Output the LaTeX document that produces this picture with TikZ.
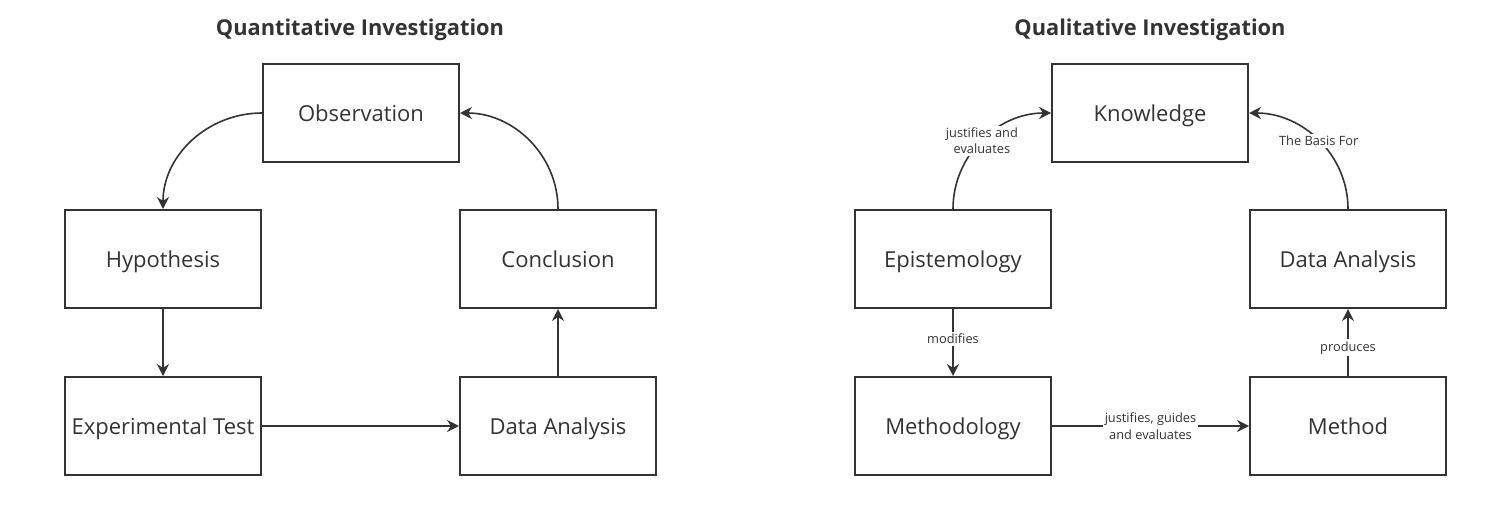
\documentclass[tikz,border=0pt]{standalone}
\usepackage{fontspec}
\setmainfont{Open Sans}
\usetikzlibrary{arrows.meta}
\definecolor{ink}{HTML}{333333}
\begin{document}
\begin{tikzpicture}[x=1pt,y=-1pt,
  box/.style={draw=ink,line width=2pt,minimum width=196pt,minimum height=98pt,inner sep=0pt,font=\fontsize{22}{26}\selectfont,text=ink,text height=16pt,text depth=0pt},
  conn/.style={draw=ink,line width=1.6pt,-{Stealth[length=12pt,width=12pt]}},
  lbl/.style={fill=white,font=\fontsize{12.8}{16.5}\selectfont,text=ink,align=center,inner sep=2pt},
  ttl/.style={font=\fontsize{21.8}{26}\selectfont\bfseries,text=ink,text height=16pt,text depth=0pt}]
\useasboundingbox (0,0) rectangle (1511,527);
% titles
\node[ttl] (t1) at (360,28) {Quantitative Investigation};
\node[ttl] (t2) at (1150,28) {Qualitative Investigation};
% left diagram
\node[box] (obs) at (361,113) {Observation};
\node[box] (hyp) at (163,259) {Hypothesis};
\node[box] (con) at (558,259) {Conclusion};
\node[box] (exp) at (163,426) {Experimental Test};
\node[box] (da1) at (558,426) {Data Analysis};
\draw[conn] (obs.west) to[out=180,in=90] (hyp.north);
\draw[conn] (con.north) to[out=90,in=0] (obs.east);
\draw[conn] (hyp.south) -- (exp.north);
\draw[conn] (exp.east) -- (da1.west);
\draw[conn] (da1.north) -- (con.south);
% right diagram
\node[box] (kno) at (1150,113) {Knowledge};
\node[box] (epi) at (953,259) {Epistemology};
\node[box] (da2) at (1348,259) {Data Analysis};
\node[box] (mty) at (953,426) {Methodology};
\node[box] (met) at (1348,426) {Method};
\draw[conn] (epi.north) to[out=90,in=180] node[lbl,pos=0.5] {justifies and\\evaluates} (kno.west);
\draw[conn] (da2.north) to[out=90,in=0] node[lbl,pos=0.5] {The Basis For} (kno.east);
\draw[conn] (epi.south) -- node[lbl,pos=0.45] {modifies} (mty.north);
\draw[conn] (mty.east) -- node[lbl] {justifies, guides\\and evaluates} (met.west);
\draw[conn] (met.north) -- node[lbl,pos=0.42] {produces} (da2.south);
\end{tikzpicture}
\end{document}
